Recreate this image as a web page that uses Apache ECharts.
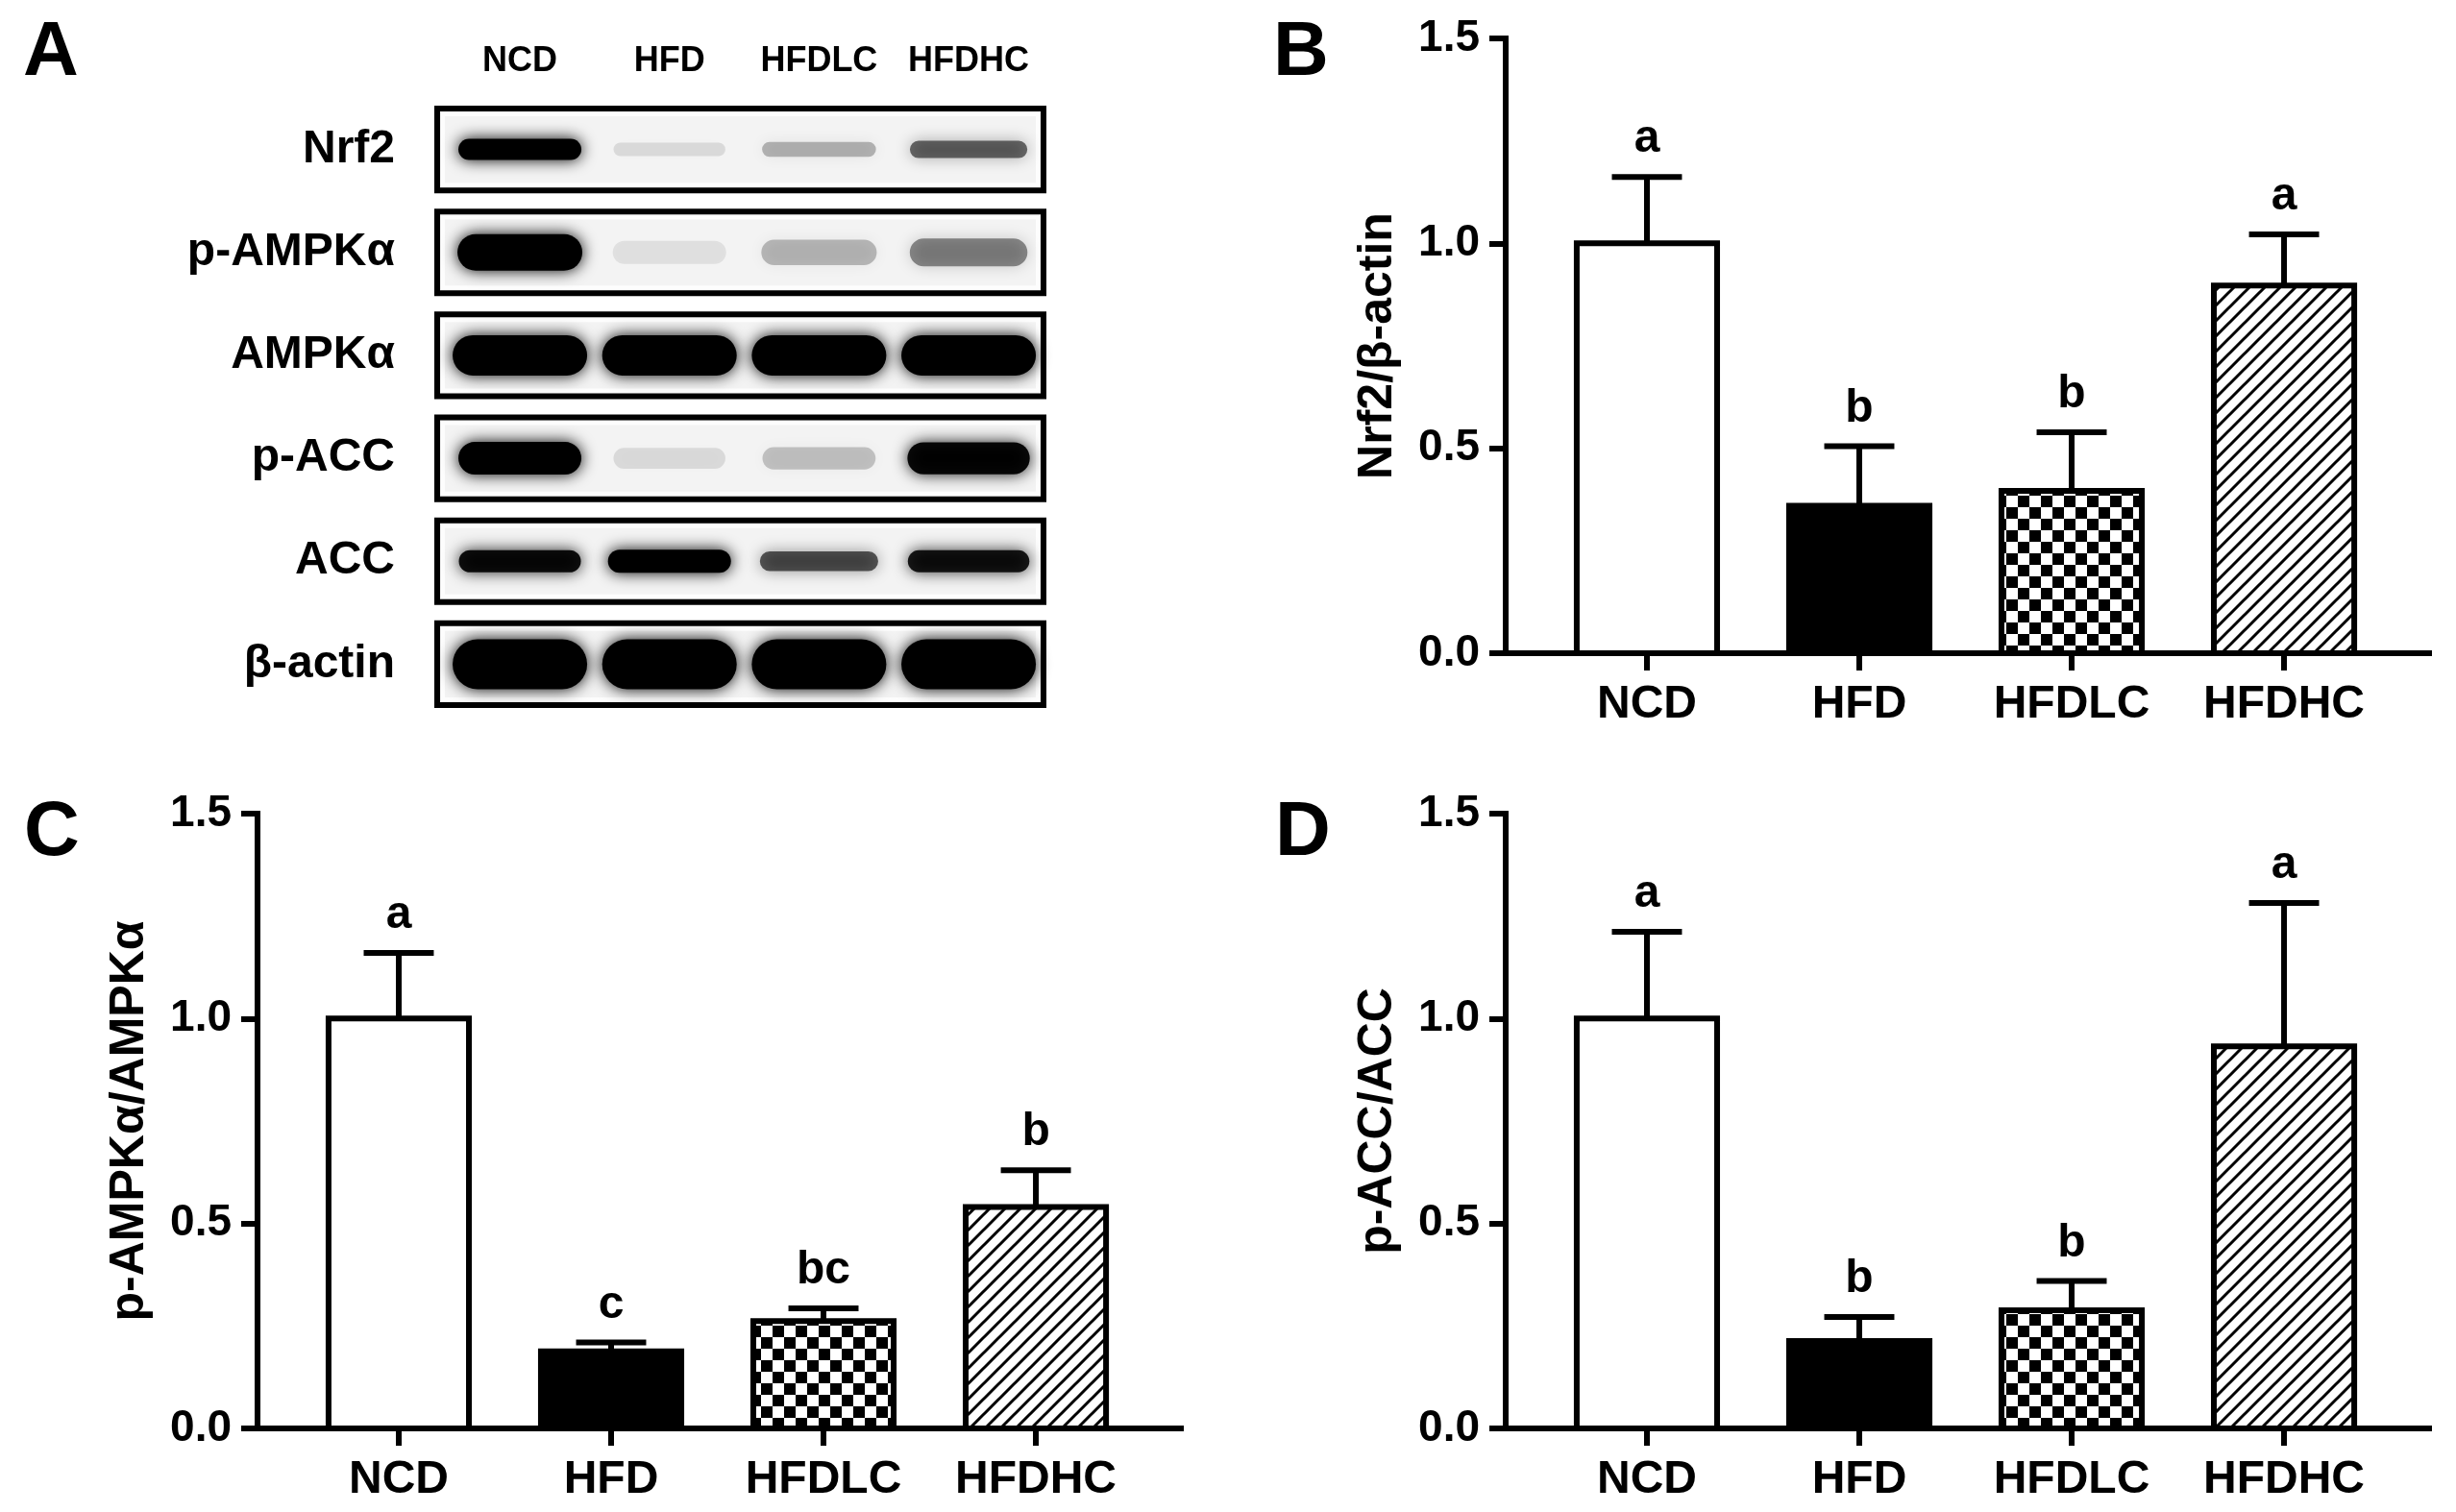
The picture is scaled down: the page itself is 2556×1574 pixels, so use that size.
<!DOCTYPE html>
<html><head><meta charset="utf-8">
<script src="https://cdn.jsdelivr.net/npm/echarts@6/dist/echarts.min.js"></script>
<style>html,body{margin:0;padding:0;background:#fff}#c{width:2556px;height:1574px}</style>
</head><body><div id="c"></div>
<script>
// ---------- DATA ----------
const groups = ['NCD', 'HFD', 'HFDLC', 'HFDHC'];
const proteins = ['Nrf2', 'p-AMPKα', 'AMPKα', 'p-ACC', 'ACC', 'β-actin'];
// western blot band darkness (0..1) per lane
const bandNrf2  = [1.00, 0.10, 0.26, 0.55];
const bandPAMPK = [1.00, 0.08, 0.24, 0.42];
const bandAMPK  = [1.00, 1.00, 1.00, 1.00];
const bandPACC  = [1.00, 0.10, 0.20, 0.95];
const bandACC   = [0.92, 1.00, 0.62, 0.88];
const bandActin = [1.00, 1.00, 1.00, 1.00];

const yTicks = [0, 0.5, 1.0, 1.5];

const nrf2Mean = [1.00, 0.36, 0.396, 0.897];
const nrf2SD   = [0.162, 0.145, 0.143, 0.125];
const nrf2Sig  = ['a', 'b', 'b', 'a'];

const ampkMean = [1.00, 0.188, 0.262, 0.54];
const ampkSD   = [0.16, 0.022, 0.031, 0.09];
const ampkSig  = ['a', 'c', 'bc', 'b'];

const accMean = [1.00, 0.213, 0.288, 0.932];
const accSD   = [0.212, 0.059, 0.072, 0.35];
const accSig  = ['a', 'b', 'b', 'a'];

// ---------- STYLE ----------
const FONT = '"Liberation Sans", Arial, Helvetica, sans-serif';
const LW = 6;
const BAR_W = 0.661;   // in category units
const CAP_W = 0.33;

function makeChecker() {
  const c = document.createElement('canvas'); c.width = 24; c.height = 24;
  const g = c.getContext('2d');
  g.fillStyle = '#fff'; g.fillRect(0, 0, 24, 24);
  g.fillStyle = '#000'; g.fillRect(0, 0, 12, 12); g.fillRect(12, 12, 12, 12);
  return c;
}
function makeHatch() {
  const s = 16;
  const c = document.createElement('canvas'); c.width = s; c.height = s;
  const g = c.getContext('2d');
  g.fillStyle = '#fff'; g.fillRect(0, 0, s, s);
  g.strokeStyle = '#000'; g.lineWidth = 3;
  g.beginPath();
  g.moveTo(-2, s + 2); g.lineTo(s + 2, -2);
  g.moveTo(-3, 3); g.lineTo(3, -3);
  g.moveTo(s - 3, s + 3); g.lineTo(s + 3, s - 3);
  g.stroke();
  return c;
}
const FILLS = ['#ffffff', '#000000', { image: makeChecker(), repeat: 'repeat' }, { image: makeHatch(), repeat: 'repeat' }];

const BAND_H = [22, 38, 42, 34, 24, 52];
const BAND_W = [128, 130, 140, 128, 128, 140];

// ---------- LAYOUT ----------
const grids = [
  { left: 452, top: 102, width: 637, height: 643 },   // A blot
  { left: 1567, top: 40, width: 961, height: 640 },   // B
  { left: 268, top: 847, width: 961, height: 640 },   // C
  { left: 1567, top: 847, width: 961, height: 640 }   // D
];
grids.forEach(g => { g.containLabel = false; g.outerBoundsMode = 'none'; });

const barTitles = ['Nrf2/β-actin', 'p-AMPKα/AMPKα', 'p-ACC/ACC'];

function barXAxis(gi) {
  return {
    type: 'value', gridIndex: gi, min: -0.665, max: 3.683,
    axisLine: { show: true, onZero: false, lineStyle: { color: '#000', width: LW, cap: 'square' } },
    axisTick: { show: true, customValues: [0, 1, 2, 3], length: 18, lineStyle: { color: '#000', width: LW } },
    axisLabel: { show: true, customValues: [0, 1, 2, 3], formatter: v => groups[Math.round(v)],
      color: '#000', fontSize: 48, fontWeight: 'bold', fontFamily: FONT, margin: 30 },
    splitLine: { show: false }
  };
}
function barYAxis(gi, title) {
  return {
    type: 'value', gridIndex: gi, min: 0, max: 1.5, interval: 0.5,
    axisLine: { show: true, onZero: false, lineStyle: { color: '#000', width: LW, cap: 'square' } },
    axisTick: { show: true, length: 17, lineStyle: { color: '#000', width: LW } },
    axisLabel: { color: '#000', fontSize: 46, fontWeight: 'bold', fontFamily: FONT, margin: 27,
      formatter: v => (yTicks.indexOf(v) >= 0 ? v.toFixed(1) : '') },
    splitLine: { show: false },
    name: title, nameLocation: 'middle', nameRotate: 90, nameGap: 108,
    nameTextStyle: { color: '#000', fontSize: 50, fontWeight: 'bold', fontFamily: FONT }
  };
}

function barSeries(gi, means, sds, sigs) {
  return {
    type: 'custom', xAxisIndex: gi, yAxisIndex: gi, clip: false, z: 3,
    data: means.map((m, i) => [i, m, sds[i]]),
    renderItem: (params, api) => {
      const i = api.value(0), m = api.value(1), sd = api.value(2);
      const base = api.coord([i, 0]), top = api.coord([i, m]), err = api.coord([i, m + sd]);
      const bw = api.size([BAR_W, 0])[0], cw = api.size([CAP_W, 0])[0];
      const cx = base[0];
      return {
        type: 'group', children: [
          { type: 'rect', shape: { x: cx - bw / 2, y: top[1], width: bw, height: base[1] - top[1] },
            style: { fill: FILLS[i], stroke: '#000', lineWidth: LW } },
          { type: 'line', shape: { x1: cx, y1: top[1], x2: cx, y2: err[1] },
            style: { stroke: '#000', lineWidth: LW } },
          { type: 'line', shape: { x1: cx - cw / 2, y1: err[1], x2: cx + cw / 2, y2: err[1] },
            style: { stroke: '#000', lineWidth: LW } },
          { type: 'text', style: { text: sigs[i], x: cx, y: err[1] - 15, align: 'center', verticalAlign: 'bottom',
            fill: '#000', font: 'bold 48px ' + FONT } }
        ]
      };
    }
  };
}

const blotRows = [bandNrf2, bandPAMPK, bandAMPK, bandPACC, bandACC, bandActin];
const bandData = [];
blotRows.forEach((row, r) => row.forEach((d, l) => bandData.push([l, r, d])));

const option = {
  animation: false,
  backgroundColor: '#fff',
  grid: grids,
  xAxis: [
    { type: 'value', gridIndex: 0, position: 'top', min: -0.572, max: 3.52,
      axisLine: { show: false }, axisTick: { show: false }, splitLine: { show: false },
      axisLabel: { customValues: [0, 1, 2, 3], formatter: v => groups[Math.round(v)], color: '#000',
        fontSize: 36, fontWeight: 'bold', fontFamily: FONT, margin: 20 } },
    barXAxis(1), barXAxis(2), barXAxis(3)
  ],
  yAxis: [
    { type: 'category', gridIndex: 0, inverse: true, data: proteins,
      axisLine: { show: false }, axisTick: { show: false }, splitLine: { show: false },
      axisLabel: { color: '#000', fontSize: 48, fontWeight: 'bold', fontFamily: FONT, margin: 41 } },
    barYAxis(1, barTitles[0]), barYAxis(2, barTitles[1]), barYAxis(3, barTitles[2])
  ],
  series: [
    { // blot frames
      type: 'custom', xAxisIndex: 0, yAxisIndex: 0, clip: false, z: 1,
      data: proteins.map((p, r) => [0, r]),
      renderItem: (params, api) => {
        const cs = params.coordSys;
        const cy = api.coord([0, api.value(1)])[1];
        const h = api.size([0, 1])[1] * 0.85;
        return {
          type: 'group', children: [
            { type: 'rect', shape: { x: cs.x + 3, y: cy - h / 2 + 3, width: cs.width - 6, height: h - 6 },
              style: { fill: '#f3f3f3', stroke: '#000', lineWidth: LW } },
            { type: 'rect', shape: { x: cs.x + 9, y: cy - h / 2 + 9, width: cs.width - 18, height: h - 18 },
              style: { fill: 'none', stroke: '#fdfdfd', lineWidth: 4 } }
          ]
        };
      }
    },
    { // blot bands
      type: 'custom', xAxisIndex: 0, yAxisIndex: 0, clip: false, z: 2,
      data: bandData,
      renderItem: (params, api) => {
        const l = api.value(0), r = api.value(1), d = api.value(2);
        const c = api.coord([l, r]);
        const h = BAND_H[r] * (0.6 + 0.4 * d);
        const w = BAND_W[r] * (0.9 + 0.1 * d);
        const col = 'rgba(0,0,0,' + Math.min(1, d) + ')';
        return { type: 'rect', shape: { x: c[0] - w / 2, y: c[1] - h / 2, width: w, height: h, r: h / 2 },
          style: { fill: col, shadowBlur: 16, shadowColor: col } };
      }
    },
    barSeries(1, nrf2Mean, nrf2SD, nrf2Sig),
    barSeries(2, ampkMean, ampkSD, ampkSig),
    barSeries(3, accMean, accSD, accSig)
  ],
  graphic: [
    { type: 'text', x: 53, y: 56, style: { text: 'A', font: 'bold 80px ' + FONT, fill: '#000', align: 'center', verticalAlign: 'middle' } },
    { type: 'text', x: 1354, y: 56, style: { text: 'B', font: 'bold 80px ' + FONT, fill: '#000', align: 'center', verticalAlign: 'middle' } },
    { type: 'text', x: 54, y: 868, style: { text: 'C', font: 'bold 80px ' + FONT, fill: '#000', align: 'center', verticalAlign: 'middle' } },
    { type: 'text', x: 1356, y: 868, style: { text: 'D', font: 'bold 80px ' + FONT, fill: '#000', align: 'center', verticalAlign: 'middle' } }
  ]
};

const chart = echarts.init(document.getElementById('c'), null, { renderer: 'canvas', width: 2556, height: 1574 });
chart.setOption(option);
</script>
</body></html>
